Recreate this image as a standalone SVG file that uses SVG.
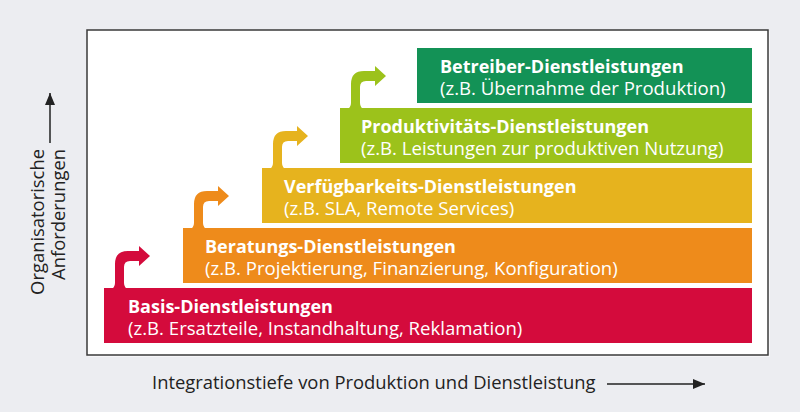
<svg xmlns="http://www.w3.org/2000/svg" xmlns:xlink="http://www.w3.org/1999/xlink" width="800" height="412" viewBox="0 0 800 412">
<defs>
<style>
.t{font-family:"Open Sans","Liberation Sans",sans-serif;font-weight:bold;font-size:18px;fill:#fff}
.s{font-family:"Open Sans","Liberation Sans",sans-serif;font-size:18.6px;fill:#fff}
.ax{font-family:"Open Sans","Liberation Sans",sans-serif;font-size:18.4px;fill:#222}
</style>
<path id="step" d="M 6 62 Q 11 60 11 55 L 11 36 Q 11 23 24 23 L 35 23 L 35 18 L 46 28 L 35 38 L 35 33 L 26 33 Q 20 33 20 39 L 20 55 Q 20 60 25 62 Z"/>
<marker id="ah" markerWidth="12" markerHeight="10" refX="12" refY="5" orient="auto" markerUnits="userSpaceOnUse">
<path d="M0 0 L12 5 L0 10 Z" fill="#222"/>
</marker>
</defs>
<rect x="0" y="0" width="800" height="412" fill="#ECEDF1"/>
<rect x="88" y="31" width="682" height="326" fill="#f6f6f8"/>
<rect x="87" y="30" width="681" height="325" fill="#fff" stroke="#3a3a3a" stroke-width="1.5"/>

<g id="connectors">
<use xlink:href="#step" transform="translate(104,228)" fill="#D40B3C"/>
<use xlink:href="#step" transform="translate(183,168)" fill="#EE8B1B"/>
<use xlink:href="#step" transform="translate(262,108)" fill="#E6B31E"/>
<use xlink:href="#step" transform="translate(340,48)" fill="#9CC21B"/>
</g>

<g id="basis">
<rect x="104" y="288" width="648" height="55" fill="#D40B3C"/>
<text class="t" x="128" y="313">Basis-Dienstleistungen</text>
<text class="s" x="128" y="335">(z.B. Ersatzteile, Instandhaltung, Reklamation)</text>
</g>
<g id="beratung">
<rect x="183" y="228" width="569" height="55" fill="#EE8B1B"/>
<text class="t" x="205" y="253">Beratungs-Dienstleistungen</text>
<text class="s" x="205" y="275">(z.B. Projektierung, Finanzierung, Konfiguration)</text>
</g>
<g id="verfuegbarkeit">
<rect x="262" y="168" width="490" height="55" fill="#E6B31E"/>
<text class="t" x="284" y="193">Verfügbarkeits-Dienstleistungen</text>
<text class="s" x="284" y="215">(z.B. SLA, Remote Services)</text>
</g>
<g id="produktivitaet">
<rect x="340" y="108" width="412" height="55" fill="#9CC21B"/>
<text class="t" x="361" y="133">Produktivitäts-Dienstleistungen</text>
<text class="s" x="361" y="155">(z.B. Leistungen zur produktiven Nutzung)</text>
</g>
<g id="betreiber">
<rect x="417" y="48" width="335" height="55" fill="#139256"/>
<text class="t" x="440" y="73">Betreiber-Dienstleistungen</text>
<text class="s" x="440" y="95">(z.B. Übernahme der Produktion)</text>
</g>

<g id="y-axis">
<text class="ax" transform="rotate(-90)" text-anchor="end"><tspan x="-149" y="44">Organisatorische</tspan><tspan x="-149" y="65">Anforderungen</tspan></text>
<line x1="50" y1="143" x2="50" y2="93" stroke="#222" stroke-width="1.5" marker-end="url(#ah)"/>
</g>
<g id="x-axis">
<text class="ax" x="152" y="389">Integrationstiefe von Produktion und Dienstleistung</text>
<line x1="607" y1="384" x2="705" y2="384" stroke="#222" stroke-width="1.5" marker-end="url(#ah)"/>
</g>
</svg>
